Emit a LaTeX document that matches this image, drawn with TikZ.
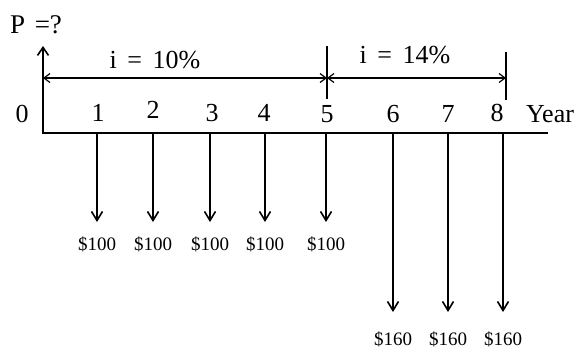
\documentclass[tikz,border=0pt]{standalone}
\usepackage{fontspec}
\setmainfont{Liberation Serif}
\usetikzlibrary{arrows.meta}
\begin{document}
\begin{tikzpicture}[x=1pt,y=-1pt,
  ln/.style={line width=1.9pt},
  flow/.style={line width=1.7pt,-{Straight Barb[length=9pt,width=11pt,line width=1.6pt]}},
  dim/.style={line width=1.3pt,{Straight Barb[length=6pt,width=9pt,line width=1.2pt]}-{Straight Barb[length=6pt,width=9pt,line width=1.2pt]}},
  bar/.style={line width=1.6pt},
  tick/.style={font=\fontsize{26}{26}\selectfont, anchor=base, inner sep=0pt},
  amt/.style={font=\fontsize{19}{19}\selectfont, anchor=base, inner sep=0pt},
  rate/.style={font=\fontsize{26}{26}\selectfont, anchor=base, inner sep=0pt}]
\useasboundingbox (0,0) rectangle (577,349);

% axes
\coordinate (O) at (43,133);
\coordinate (top) at (43,46);
\coordinate (end) at (548,133);
\draw[ln,-{Straight Barb[length=8pt,width=11pt,line width=1.6pt]}] (end) -- (O) -- (top);

\node[rate,font=\fontsize{27}{27}\selectfont] (P) at (36,33) {P\hspace{3pt} =?};

% tick points on the time line
\foreach \n/\x in {1/97,2/153,3/210,4/265,5/326,6/393,7/448,8/503}
  \coordinate (t\n) at (\x,133);

% year labels
\node[tick] (n0) at (22,122) {0};
\node[tick] (n1) at (98,121) {1};
\node[tick] (n2) at (153,118) {2};
\node[tick] (n3) at (212,121) {3};
\node[tick] (n4) at (264,121) {4};
\node[tick] (n5) at (327,122) {5};
\node[tick] (n6) at (393,122) {6};
\node[tick] (n7) at (448,122) {7};
\node[tick] (n8) at (497,121) {8};
\node[tick] (yr) at (550,122) {Year};

% interest-rate bars and dimension lines
\coordinate (b5t) at (327,46);
\coordinate (b5b) at (327,99);
\coordinate (b8t) at (506,52);
\coordinate (b8b) at (506,100);
\draw[bar] (b5t) -- (b5b);
\draw[bar] (b8t) -- (b8b);
\coordinate (d0) at (43,78);
\coordinate (d5) at (327,78);
\coordinate (d8) at (506,78);
\draw[dim] (d0) -- (d5);
\draw[dim] (d5) -- (d8);
\node[rate] (r1) at (155,68) {i\hspace{4pt} =\hspace{4pt} 10\%};
\node[rate] (r2) at (405,63) {i\hspace{4pt} =\hspace{4pt} 14\%};

% cash flows
\foreach \n/\x in {1/97,2/153,3/210,4/265,5/326}{
  \coordinate (a\n) at (\x,222);
  \node[amt] (m\n) at (\x,250) {\$100};
  \draw[flow] (t\n) -- (a\n);
}
\foreach \n/\x in {6/393,7/448,8/503}{
  \coordinate (a\n) at (\x,312);
  \node[amt] (m\n) at (\x,345) {\$160};
  \draw[flow] (t\n) -- (a\n);
}
\end{tikzpicture}
\end{document}
